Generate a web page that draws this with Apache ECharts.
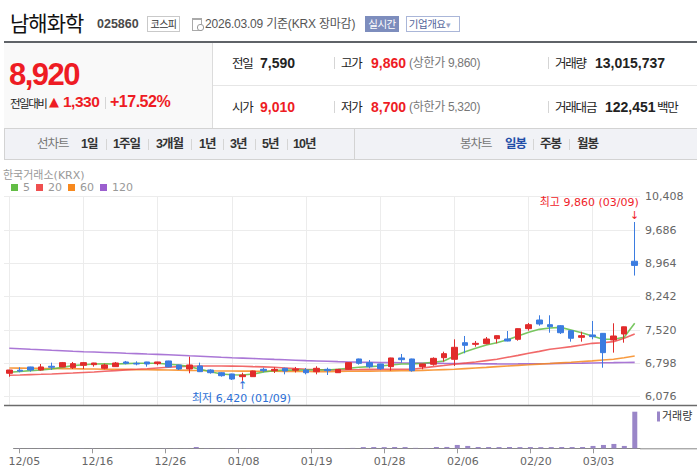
<!DOCTYPE html>
<html><head><meta charset="utf-8">
<script src="https://cdn.jsdelivr.net/npm/echarts@6/dist/echarts.min.js"></script>
<style>
html,body{margin:0;padding:0;background:#fff;width:697px;height:468px;overflow:hidden;}
#chart{position:absolute;left:0;top:0;width:697px;height:468px;}
#hdr{position:absolute;left:0;top:0;width:697px;height:165px;z-index:2;font-family:'Liberation Sans','Noto Sans CJK KR',sans-serif;}
#hdr div{position:absolute;white-space:nowrap;}
.k{font-family:'Noto Sans CJK KR',sans-serif;font-size:12.5px;line-height:20px;letter-spacing:-1.2px;color:#222;}
.v{font-family:'Liberation Sans',sans-serif;font-weight:bold;font-size:14px;line-height:20px;color:#222;}
.r{color:#ee1c24;}
.g{font-family:'Liberation Sans','Noto Sans CJK KR',sans-serif;font-size:12px;line-height:20px;color:#777;letter-spacing:-0.3px;}
.sep{width:0;height:12px;border-left:1px solid #d5d5d5;}
.t{font-family:'Liberation Sans','Noto Sans CJK KR',sans-serif;font-size:12.5px;line-height:20px;color:#333;font-weight:bold;letter-spacing:-1px;}
</style></head>
<body>
<div id="chart"></div>
<div id="hdr">
  <div style="left:10px;top:9px;font-family:'Noto Sans CJK KR';font-size:21px;line-height:26px;letter-spacing:-1px;color:#111;">남해화학</div>
  <div style="left:97px;top:15px;font-family:'Liberation Sans';font-weight:bold;font-size:12.5px;line-height:18px;color:#4a4a4a;">025860</div>
  <div style="left:147px;top:16px;width:31px;height:14px;border:1px solid #c9c9c9;font-family:'Noto Sans CJK KR';font-size:10px;line-height:14px;color:#333;text-align:center;letter-spacing:-0.5px;">코스피</div>
  <div style="left:192px;top:18px;width:8px;height:10px;border:1px solid #aaa;border-top:2px solid #aaa;"></div>
  <div style="left:197px;top:24px;width:5px;height:5px;border-radius:3px;border:1px solid #999;background:#fff;"></div>
  <div style="left:205px;top:14px;font-family:'Liberation Sans','Noto Sans CJK KR';font-size:12px;line-height:20px;color:#555;letter-spacing:-0.2px;">2026.03.09 기준(KRX 장마감)</div>
  <div style="left:365px;top:16px;width:34px;height:16px;background:#7d8dbd;color:#fff;font-family:'Noto Sans CJK KR';font-size:10.5px;line-height:16px;text-align:center;letter-spacing:-0.5px;">실시간</div>
  <div style="left:406px;top:16px;width:52px;height:14px;border:1px solid #aab6d8;color:#53659b;font-family:'Noto Sans CJK KR';font-size:10.5px;line-height:14px;letter-spacing:-0.5px;">&nbsp;기업개요<span style="color:#9aa4c4;font-size:9px;">▾</span></div>

  <div style="left:4px;top:41px;width:693px;height:2px;background:#5f6368;"></div>
  <div style="left:4px;top:43px;width:208px;height:85px;background:#f9f9f9;border-right:1px solid #dcdcdc;"></div>
  <div style="left:213px;top:85px;width:484px;height:1px;background:#e6e6e6;"></div>
  <div style="left:4px;top:128px;width:692px;height:30px;background:#f1f2f6;border:1px solid #d3d3d3;"></div>
  <div style="left:354px;top:129px;width:1px;height:30px;background:#d3d3d3;"></div>

  <div style="left:9px;top:57px;font-family:'Liberation Sans';font-weight:bold;font-size:31px;line-height:36px;color:#ee1c24;letter-spacing:-1.5px;">8,920</div>
  <div style="left:10px;top:93px;font-family:'Noto Sans CJK KR';font-size:11.5px;line-height:20px;letter-spacing:-1.5px;color:#222;">전일대비</div>
  <div style="left:49px;top:92px;font-family:'DejaVu Sans';font-size:13px;line-height:20px;color:#ee1c24;">▲</div>
  <div style="left:63px;top:92px;font-family:'Liberation Sans';font-weight:bold;font-size:15.5px;line-height:20px;color:#ee1c24;letter-spacing:-0.5px;">1,330</div>
  <div class="sep" style="left:105px;top:97px;"></div>
  <div style="left:110px;top:92px;font-family:'Liberation Sans';font-weight:bold;font-size:16px;line-height:20px;color:#ee1c24;letter-spacing:-0.5px;">+17.52%</div>

  <div class="k" style="left:232px;top:53px;">전일</div>
  <div class="v" style="left:260px;top:53px;">7,590</div>
  <div class="sep" style="left:334px;top:57px;"></div>
  <div class="k" style="left:341px;top:53px;">고가</div>
  <div class="v r" style="left:371px;top:53px;">9,860</div>
  <div class="g" style="left:409px;top:53px;">(상한가 9,860)</div>
  <div class="sep" style="left:548px;top:57px;"></div>
  <div class="k" style="left:555px;top:53px;">거래량</div>
  <div class="v" style="left:595px;top:53px;">13,015,737</div>

  <div class="k" style="left:232px;top:97px;">시가</div>
  <div class="v r" style="left:260px;top:97px;">9,010</div>
  <div class="sep" style="left:334px;top:101px;"></div>
  <div class="k" style="left:341px;top:97px;">저가</div>
  <div class="v r" style="left:371px;top:97px;">8,700</div>
  <div class="g" style="left:409px;top:97px;">(하한가 5,320)</div>
  <div class="sep" style="left:548px;top:101px;"></div>
  <div class="k" style="left:555px;top:97px;">거래대금</div>
  <div class="v" style="left:605px;top:97px;">122,451</div>
  <div class="k" style="left:657px;top:97px;color:#222;">백만</div>

  <div class="t" style="left:37px;top:134px;color:#777;font-weight:normal;">선차트</div>
  <div class="t" style="left:81px;top:134px;">1일</div>
  <div class="sep" style="left:106px;top:139px;height:11px;"></div>
  <div class="t" style="left:113px;top:134px;">1주일</div>
  <div class="sep" style="left:148px;top:139px;height:11px;"></div>
  <div class="t" style="left:156px;top:134px;">3개월</div>
  <div class="sep" style="left:191px;top:139px;height:11px;"></div>
  <div class="t" style="left:199px;top:134px;">1년</div>
  <div class="sep" style="left:223px;top:139px;height:11px;"></div>
  <div class="t" style="left:230px;top:134px;">3년</div>
  <div class="sep" style="left:255px;top:139px;height:11px;"></div>
  <div class="t" style="left:262px;top:134px;">5년</div>
  <div class="sep" style="left:287px;top:139px;height:11px;"></div>
  <div class="t" style="left:293px;top:134px;">10년</div>

  <div class="t" style="left:460px;top:134px;color:#777;font-weight:normal;">봉차트</div>
  <div class="t" style="left:505px;top:134px;color:#1f4ea8;">일봉</div>
  <div class="sep" style="left:533px;top:139px;height:11px;"></div>
  <div class="t" style="left:540px;top:134px;">주봉</div>
  <div class="sep" style="left:569px;top:139px;height:11px;"></div>
  <div class="t" style="left:577px;top:134px;">월봉</div>
</div>
<script>
const dates = ['12/05','12/08','12/09','12/10','12/11','12/12','12/15','12/16','12/17','12/18','12/19','12/22','12/23','12/24','12/26','12/29','12/30',
'01/02','01/05','01/06','01/07','01/08','01/09','01/12','01/13','01/14','01/15','01/16','01/19','01/20','01/21','01/22','01/23','01/26','01/27','01/28','01/29','01/30',
'02/02','02/03','02/04','02/05','02/06','02/09','02/10','02/11','02/12','02/13','02/19','02/20','02/23','02/24','02/25','02/26','02/27',
'03/03','03/04','03/05','03/06','03/09'];
const tickLabels = ['12/05','12/16','12/26','01/08','01/19','01/28','02/06','02/20','03/03'];
const priceTicks = [6076, 6798, 7520, 8242, 8964, 9686, 10408];

const openP = [6583,6650,6720,6654,6735,6720,6706,6756,6770,6691,
6727,6828,6799,6828,6792,6850,6763,6676,6742,6654,
6596,6568,6510,6510,6669,6640,6691,6650,6654,6618,
6669,6596,6669,6893,6814,6785,6727,6915,6893,6727,
6778,6921,6886,7246,7210,7225,7333,7326,7319,7550,
7737,7636,7614,7506,7362,7413,7448,7304,7434,9010];
const closeP = [6654,6630,6654,6720,6713,6814,6792,6814,6806,6763,
6806,6799,6784,6784,6828,6720,6676,6763,6618,6596,
6531,6459,6546,6633,6640,6669,6633,6676,6596,6691,
6640,6669,6814,6799,6727,6683,6915,6878,6640,6785,
6907,7008,7146,7189,7232,7326,7398,7282,7550,7636,
7651,7593,7462,7341,7398,7377,7030,7391,7590,8920];
const lowP = [6509,6604,6618,6640,6654,6715,6676,6676,6727,6669,
6720,6777,6756,6727,6756,6715,6654,6583,6610,6575,
6510,6438,6420,6505,6604,6590,6560,6600,6560,6560,
6546,6590,6660,6770,6691,6654,6640,6814,6618,6669,
6749,6835,6741,7016,7159,7210,7232,7275,7289,7506,
7614,7462,7434,7268,7268,7319,6704,7030,7246,8700];
const highP = [6660,6713,6725,6784,6814,6828,6828,6828,6810,6792,
6828,6850,6842,6832,6832,6855,6768,6943,6814,6670,
6610,6575,6596,6640,6705,6713,6705,6720,6698,6735,
6705,6676,6820,6900,6871,6790,6920,7001,6900,6790,
6929,7051,7319,7391,7283,7369,7405,7499,7555,7673,
7839,7839,7629,7510,7484,7716,7455,7666,7595,9860];

const ma5 = [6604,6622,6640,6655,6676,6712,6749,6768,6785,6788,
6785,6792,6799,6801,6799,6778,6763,6727,6669,6618,
6568,6553,6546,6568,6611,6640,6654,6652,6654,6656,
6654,6669,6691,6713,6727,6741,6763,6785,6787,6799,
6821,6850,6958,7051,7124,7196,7246,7310,7391,7470,
7535,7564,7578,7521,7462,7391,7319,7319,7362,7666];
const ma20 = [6540,6546,6555,6561,6568,6580,6589,6601,6611,6627,
6640,6656,6669,6683,6699,6713,6727,6736,6741,6742,
6740,6738,6734,6727,6721,6713,6699,6685,6672,6664,
6658,6654,6660,6664,6669,6668,6669,6671,6672,6698,
6727,6751,6778,6804,6828,6858,6886,6929,6971,7016,
7058,7102,7132,7160,7195,7232,7246,7268,7341,7434];
const ma60 = [6698,6696,6692,6689,6687,6684,6682,6678,6675,6672,
6669,6667,6663,6660,6657,6654,6651,6646,6642,6637,
6633,6632,6630,6629,6627,6626,6624,6622,6621,6619,
6618,6622,6626,6629,6631,6633,6636,6638,6640,6647,
6655,6662,6669,6684,6698,6712,6727,6741,6755,6768,
6782,6795,6808,6821,6838,6853,6870,6886,6921,6958];
const ma120 = [7124,7114,7103,7093,7082,7072,7061,7051,7043,7035,
7027,7018,7010,7001,6993,6983,6973,6962,6952,6942,
6931,6921,6912,6903,6894,6884,6875,6866,6857,6850,
6843,6835,6828,6824,6821,6817,6814,6810,6807,6803,
6800,6797,6795,6792,6790,6788,6786,6785,6786,6788,
6790,6793,6797,6800,6803,6807,6810,6813,6817,6820];
const volume = [52000,48000,61000,45000,58000,73000,66000,54000,41000,62000,
57000,49000,38000,44000,71000,88000,64000,460000,92000,75000,
83000,110000,96000,78000,52000,47000,61000,43000,55000,69000,
58000,81000,140000,430000,450000,420000,470000,440000,150000,120000,
470000,480000,1190000,840000,470000,450000,440000,460000,430000,450000,
420000,440000,460000,450000,470000,840000,1190000,1550000,840000,13015737];

const highMark = {date:'03/09', value:9860, text:'최고 9,860 (03/09)'};
const lowMark = {date:'01/09', value:6420, text:'최저 6,420 (01/09)'};

const FONT = "'DejaVu Sans','Noto Sans CJK KR',sans-serif";
const RED = '#e12b2b', BLUE = '#3b7ce0';
const isTick = (i) => tickLabels.indexOf(dates[i]) >= 0;
const candles = dates.map((d, i) => [openP[i], closeP[i], lowP[i], highP[i]]);

const chart = echarts.init(document.getElementById('chart'), null, {renderer:'svg'});
const mkLine = (name, data, color) => ({
  name, type:'line', xAxisIndex:0, yAxisIndex:0, data, symbol:'none', silent:true, z:2,
  itemStyle:{color}, lineStyle:{color, width:1.6, opacity:0.85}
});
const markLabel = (extra) => Object.assign({show:true, position:'inside', fontSize:11, lineHeight:11, fontFamily:FONT}, extra);

chart.setOption({
  animation:false,
  backgroundColor:'#fff',
  title:{text:'한국거래소(KRX)', left:3, top:170, padding:0,
    textStyle:{fontSize:11, color:'#999', fontWeight:'normal', fontFamily:FONT}},
  legend:[
    {data:['5','20','60','120'], left:11, top:182, padding:0, itemWidth:7, itemHeight:7, itemGap:6,
     icon:'rect', selectedMode:false, textStyle:{fontSize:11, color:'#999', fontFamily:FONT}},
    {data:['거래량'], left:657, top:411, padding:0, itemWidth:3, itemHeight:10,
     icon:'rect', selectedMode:false, textStyle:{fontSize:11, color:'#333', fontFamily:FONT, padding:[0,0,0,-3]}}
  ],
  grid:[
    {left:4, right:57, top:196.7, height:200},
    {left:4, right:57, top:405, height:43.3},
    {left:4, right:57, top:396.7, height:8.3}
  ],
  xAxis:[
    {type:'category', gridIndex:0, data:dates, boundaryGap:true,
     axisLine:{show:false}, axisTick:{show:false}, axisLabel:{show:false},
     splitLine:{show:true, interval:isTick, alignWithLabel:true, lineStyle:{color:'#ececec', width:1}}},
    {type:'category', gridIndex:1, data:dates, boundaryGap:true,
     axisLine:{show:true, lineStyle:{color:'#888', width:1}},
     axisTick:{show:true, alignWithLabel:true, interval:isTick, length:5, lineStyle:{color:'#999'}},
     axisLabel:{interval:isTick, margin:8, color:'#666', fontSize:11, fontFamily:FONT,
       formatter:(v) => '{s|}{a|' + v + '}',
       rich:{s:{width:11}, a:{color:'#666', fontSize:11, fontFamily:FONT}}},
     splitLine:{show:false}},
    {type:'category', gridIndex:2, data:dates, boundaryGap:true,
     axisLine:{show:false}, axisTick:{show:false}, axisLabel:{show:false},
     splitLine:{show:true, interval:isTick, alignWithLabel:true, lineStyle:{color:'#ececec', width:1}}}
  ],
  yAxis:[
    {type:'value', gridIndex:0, position:'right',
     min:priceTicks[0], max:priceTicks[priceTicks.length-1], interval:priceTicks[1]-priceTicks[0],
     axisLine:{show:false}, axisTick:{show:false},
     axisLabel:{margin:5, color:'#666', fontSize:11, fontFamily:FONT, formatter:(v) => v.toLocaleString('en-US')},
     splitLine:{show:true, lineStyle:{color:'#ececec', width:1}}},
    {type:'value', gridIndex:1, min:0, max:15400000, show:false},
    {type:'value', gridIndex:2, min:0, max:1, show:false}
  ],
  series:[
    mkLine('120', ma120, '#9b5fcf'),
    mkLine('60', ma60, '#f7891e'),
    mkLine('20', ma20, '#ef4f4f'),
    mkLine('5', ma5, '#62bd45'),
    {name:'K', type:'candlestick', xAxisIndex:0, yAxisIndex:0, data:candles, barWidth:6, z:3,
     itemStyle:{color:RED, color0:BLUE, borderColor:RED, borderColor0:BLUE, borderWidth:1},
     markPoint:{symbol:'rect', symbolSize:1, silent:true, itemStyle:{color:'rgba(0,0,0,0)'},
       data:[
        {coord:[highMark.date, highMark.value], label:markLabel({formatter:highMark.text, align:'right', verticalAlign:'middle', offset:[4,-20], color:'#f0232a'})},
        {coord:[highMark.date, highMark.value], label:markLabel({formatter:'↓', align:'center', verticalAlign:'middle', offset:[0,-7], color:'#f0232a'})},
        {coord:[lowMark.date, lowMark.value], label:markLabel({formatter:'↑', align:'center', verticalAlign:'middle', offset:[0,5], color:'#2c6fd6'})},
        {coord:[lowMark.date, lowMark.value], label:markLabel({formatter:lowMark.text, align:'center', verticalAlign:'middle', offset:[-1,18], color:'#2c6fd6'})}
       ]}},
    {name:'거래량', type:'bar', xAxisIndex:1, yAxisIndex:1, data:volume, barWidth:5,
     itemStyle:{color:'#9a86c8'}}
  ],
  graphic:[
    {type:'line', silent:true, shape:{x1:4, y1:405.5, x2:697, y2:405.5}, style:{stroke:'#6b6b6b', lineWidth:1.5}, z:10},
    {type:'line', silent:true, shape:{x1:640, y1:448.8, x2:697, y2:448.8}, style:{stroke:'#888', lineWidth:1}, z:10}
  ]
});
</script>
</body></html>
